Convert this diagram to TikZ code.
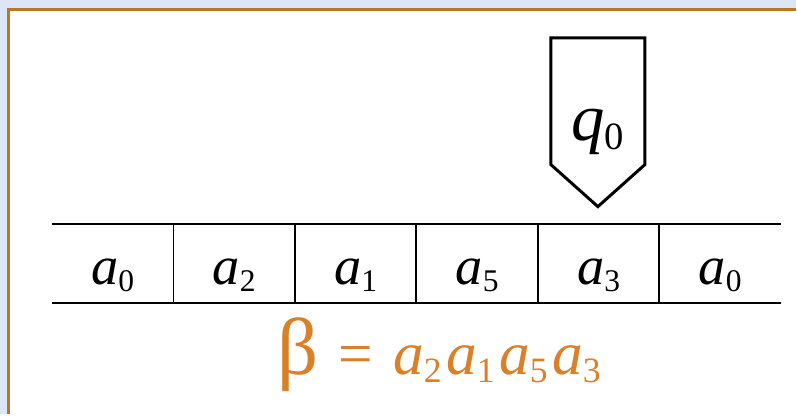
\documentclass[tikz,border=0pt]{standalone}
\usepackage{fontspec}
\usepackage{graphicx}
\setmainfont{Liberation Serif}
\usetikzlibrary{positioning}

\definecolor{slidebg}{RGB}{220,230,246}
\definecolor{frameline}{RGB}{184,121,30}
\definecolor{betaorange}{RGB}{217,128,40}

\newcommand{\tsym}[2]{\textit{#1}\raisebox{-0.13em}{\scalebox{0.58}{#2}}}

\tikzset{
  cell/.style={minimum width=2.42cm, text height=1.2cm, text depth=0.36cm,
    inner sep=0pt, font=\fontsize{31}{37}\selectfont},
  tape/.style={line width=1.1pt},
  head/.style={line width=1.7pt, line join=miter},
}

\begin{document}
\begin{tikzpicture}[x=0.02cm, y=-0.02cm]

	\fill[slidebg] (0,0) rectangle (797,415);
	\fill[white] (9,10) rectangle (797,415);
	\draw[frameline, line width=1.7pt] (9,415) -- (9,10) -- (797,10);
	\useasboundingbox (0,0) rectangle (797,415);

    % tape
	\node (c1) [cell] at (113, 264) {\tsym{a}{0}};
    \node (c2) [cell, right=0pt of c1] {\tsym{a}{2}};
    \node (c3) [cell, right=0pt of c2] {\tsym{a}{1}};
    \node (c4) [cell, right=0pt of c3] {\tsym{a}{5}};
    \node (c5) [cell, right=0pt of c4] {\tsym{a}{3}};
    \node (c6) [cell, right=0pt of c5] {\tsym{a}{0}};

    \draw[tape] (c1.north west) -- (c6.north east);
    \draw[tape] (c1.south west) -- (c6.south east);

    \path[tape]
    (c1.north east) edge (c1.south east)
    (c2.north east) edge (c2.south east)
    (c3.north east) edge (c3.south east)
    (c4.north east) edge (c4.south east)
    (c5.north east) edge (c5.south east);

    % read head
    \draw[head] (552, 38) -- (646, 38) -- (646, 165) -- (599, 207) -- (552, 165) -- cycle;
    \node (state) [anchor=base, inner sep=0pt, font=\fontsize{38}{44}\selectfont] at (599, 141) {\tsym{q}{0}};

    % word
    \node (word) [anchor=base, inner sep=0pt, text=betaorange, font=\fontsize{35}{42}\selectfont] at (440, 375)
    {{\fontsize{46}{50}\selectfont β}\hspace{0.4cm}=\hspace{0.4cm}\tsym{a}{2}\kern0.09cm\tsym{a}{1}\kern0.09cm\tsym{a}{5}\kern0.09cm\tsym{a}{3}};

\end{tikzpicture}
\end{document}
